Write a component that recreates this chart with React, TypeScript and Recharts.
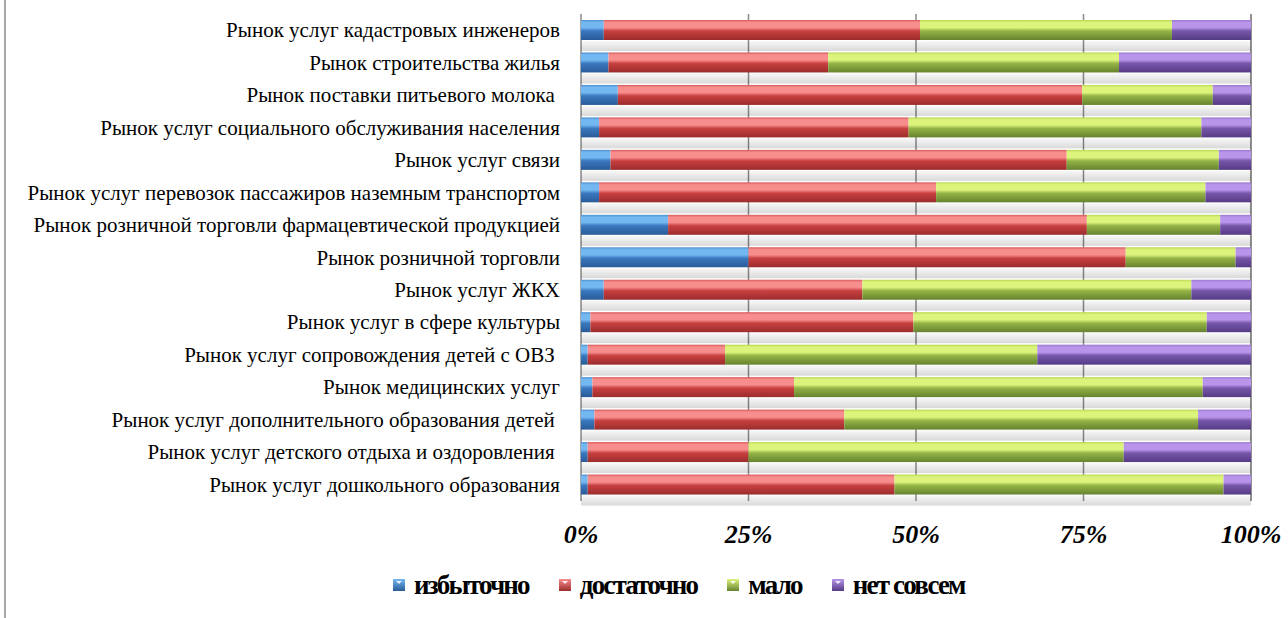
import { BarChart, Bar, XAxis, YAxis, CartesianGrid, Legend } from 'recharts'

const categories = [
  'Рынок услуг кадастровых инженеров',
  'Рынок строительства жилья',
  'Рынок поставки питьевого молока ',
  'Рынок услуг социального обслуживания населения',
  'Рынок услуг связи',
  'Рынок услуг перевозок пассажиров наземным транспортом',
  'Рынок розничной торговли фармацевтической продукцией',
  'Рынок розничной торговли',
  'Рынок услуг ЖКХ',
  'Рынок услуг в сфере культуры',
  'Рынок услуг сопровождения детей с ОВЗ ',
  'Рынок медицинских услуг',
  'Рынок услуг дополнительного образования детей ',
  'Рынок услуг детского отдыха и оздоровления ',
  'Рынок услуг дошкольного образования',
]

// shares, %
const izbytochno = [3.4, 4.1, 5.5, 2.7, 4.4, 2.7, 13, 25, 3.4, 1.4, 1, 1.7, 2, 1, 1]
const dostatochno = [47.2, 32.8, 69.3, 46.2, 68.1, 50.3, 62.5, 56.3, 38.6, 48.2, 20.5, 30.1, 37.3, 24, 45.8]
const malo = [37.6, 43.4, 19.5, 43.7, 22.7, 40.2, 19.9, 16.4, 49.1, 43.8, 46.6, 61, 52.8, 56, 49.1]
const netSovsem = [11.8, 19.7, 5.7, 7.4, 4.8, 6.8, 4.6, 2.3, 8.9, 6.6, 31.9, 7.2, 7.9, 19, 4.1]

const xTicks = [0, 25, 50, 75, 100]
const seriesNames = ['избыточно', 'достаточно', 'мало', 'нет совсем']

const data = categories.map((name, i) => ({
  name,
  izb: izbytochno[i],
  dost: dostatochno[i],
  malo: malo[i],
  net: netSovsem[i],
}))

// [edge, highlight, mid, dark]
const palettes = [
  ['#4f8fd0', '#74b8f2', '#3a78bf', '#2a5b98'],
  ['#d85a5a', '#f78d8d', '#c84040', '#9c2c2c'],
  ['#b8d850', '#dcf47c', '#94b446', '#66832e'],
  ['#9a78cc', '#b894ea', '#7656a8', '#553b86'],
]
const gradIds = ['g-izb', 'g-dost', 'g-malo', 'g-net']
const keys = ['izb', 'dost', 'malo', 'net']

const serif = "'Liberation Serif', 'Times New Roman', serif"

function GlossyBar(props: any) {
  const { x, y, width, height, gradId } = props
  if (!width || width <= 0) return null
  return (
    <g>
      <rect x={x} y={y + height + 1} width={width} height={10} fill="url(#g-floor)" />
      <rect x={x} y={y} width={width} height={height} fill={`url(#${gradId})`} />
    </g>
  )
}

function CategoryTick({ x, y, payload }: any) {
  return (
    <text
      x={x - 21}
      y={y}
      textAnchor="end"
      dominantBaseline="central"
      fontFamily={serif}
      fontSize={21}
      fill="#000"
      style={{ whiteSpace: 'pre' }}
    >
      {payload.value}
    </text>
  )
}

function PercentTick({ x, y, payload }: any) {
  return (
    <text x={x} y={y + 42} textAnchor="middle" fontFamily={serif} fontSize={26} fontWeight="bold" fontStyle="italic" fill="#000">
      {payload.value}%
    </text>
  )
}

function LegendContent() {
  return (
    <div style={{ display: 'flex', alignItems: 'center', paddingLeft: 393, height: 34 }}>
      {seriesNames.map((n, i) => (
        <div key={n} style={{ display: 'flex', alignItems: 'center', marginRight: 30 }}>
          <svg width={12} height={12} style={{ marginRight: 9 }}>
            <defs>
              <linearGradient id={`lg-${i}`} x1="0" y1="0" x2="0" y2="1">
                <stop offset="0" stopColor={palettes[i][1]} />
                <stop offset="1" stopColor={palettes[i][3]} />
              </linearGradient>
            </defs>
            <rect x={0} y={0} width={12} height={12} fill={`url(#lg-${i})`} />
            <path d="M3 2 L9 2 L6 5 Z" fill="#fff" opacity={0.85} />
          </svg>
          <span
            style={{
              fontFamily: serif,
              fontSize: 27,
              fontWeight: 'bold',
              letterSpacing: -1.8,
              lineHeight: '30px',
              color: '#000',
              whiteSpace: 'nowrap',
            }}
          >
            {n}
          </span>
        </div>
      ))}
    </div>
  )
}

export default function App() {
  return (
    <div style={{ position: 'absolute', left: 0, top: 0, width: 1288, height: 618, background: '#fff' }}>
      <div style={{ position: 'absolute', left: 4, top: 0, width: 2, height: 618, background: '#a8a8a8' }} />
      <BarChart
        width={1288}
        height={618}
        data={data}
        layout="vertical"
        barSize={20}
        margin={{ top: 14, right: 37, bottom: 0, left: 0 }}
      >
        <defs>
          {palettes.map((p, i) => (
            <linearGradient key={gradIds[i]} id={gradIds[i]} x1="0" y1="0" x2="0" y2="1">
              <stop offset="0" stopColor={p[0]} />
              <stop offset="0.12" stopColor={p[1]} />
              <stop offset="0.38" stopColor={p[1]} />
              <stop offset="0.55" stopColor={p[2]} />
              <stop offset="1" stopColor={p[3]} />
            </linearGradient>
          ))}
          <linearGradient id="g-floor" x1="0" y1="0" x2="0" y2="1">
            <stop offset="0" stopColor="#000" stopOpacity={0.03} />
            <stop offset="1" stopColor="#000" stopOpacity={0.15} />
          </linearGradient>
        </defs>
        <CartesianGrid horizontal={false} stroke="#8a8a8a" strokeWidth={1.5} />
        <XAxis
          type="number"
          domain={[0, 100]}
          ticks={xTicks}
          axisLine={false}
          tickLine={false}
          tickSize={0}
          tickMargin={0}
          height={67}
          tick={<PercentTick />}
          interval={0}
        />
        <YAxis
          type="category"
          dataKey="name"
          width={581}
          axisLine={false}
          tickLine={false}
          tickSize={0}
          tickMargin={0}
          tick={<CategoryTick />}
          interval={0}
        />
        <Legend verticalAlign="bottom" height={50} wrapperStyle={{ left: 0, width: 1288 }} content={<LegendContent />} />
        {keys.map((k, i) => (
          <Bar
            key={k}
            dataKey={k}
            name={seriesNames[i]}
            stackId="s"
            fill={palettes[i][2]}
            isAnimationActive={false}
            shape={(p: any) => <GlossyBar {...p} gradId={gradIds[i]} />}
          />
        ))}
      </BarChart>
    </div>
  )
}
